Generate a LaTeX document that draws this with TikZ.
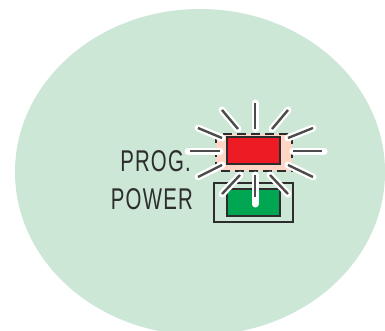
\documentclass[tikz,border=0pt]{standalone}
\usepackage{fontspec}
\newfontfamily\panelfont[FakeStretch=0.68,LetterSpace=4]{Liberation Sans}
\usetikzlibrary{positioning}
\definecolor{panel}{RGB}{205,231,214}
\definecolor{ledred}{RGB}{237,28,36}
\definecolor{ledgreen}{RGB}{0,166,81}
\definecolor{glow}{RGB}{255,214,198}
\definecolor{ink}{RGB}{45,45,45}
\tikzset{
  lamp/.style={fill=#1,draw=ink,line width=2pt},
  ledlabel/.style={font=\fontsize{30}{30}\panelfont,text=ink,inner sep=0pt,anchor=base east},
  rayback/.style={draw=white,line width=7pt,line cap=round},
  ray/.style={draw=ink!85,line width=2.4pt},
}
\begin{document}
\begin{tikzpicture}[x=1pt,y=-1pt]
  \clip (0,0) rectangle (385,330);
  \fill[white] (0,0) rectangle (385,330);
  \fill[panel] (200,172) ellipse [x radius=185,y radius=163];
  % power lamp
  \draw[ink,line width=1.8pt] (214,183) rectangle (293,222);
  \path[lamp=ledgreen] (227,189) rectangle (280,216);
  % prog lamp, blinking
  \draw[fill=glow,draw=ink,line width=1.8pt,dash pattern=on 9pt off 5pt] (216,134) rectangle (292,171);
  \foreach \xa/\ya/\xb/\yb in {255/103/255/129,255/175/255/204,188/151/220/151,293/151/324/151,
    222/110/238/129,288/110/272/129,198/128/222/138,313/128/288/138,
    198/177/222/165,313/177/288/165,222/194/240/175,288/194/270/175} {
    \draw[rayback] (\xa,\ya) -- (\xb,\yb);
  }
  \foreach \xa/\ya/\xb/\yb in {255/103/255/129,255/175/255/197,190/151/220/151,293/151/322/151,
    222/110/238/129,288/110/272/129,198/128/222/138,313/128/288/138,
    198/177/222/165,313/177/288/165,222/194/240/175,288/194/270/175} {
    \draw[ray] (\xa,\ya) -- (\xb,\yb);
  }
  \path[lamp=ledred] (227,137) rectangle (280,164);
  % labels
  \node[ledlabel] (prog) at (191,171) {PROG.};
  \node[ledlabel] (power) at (193,209) {POWER};
\end{tikzpicture}
\end{document}
